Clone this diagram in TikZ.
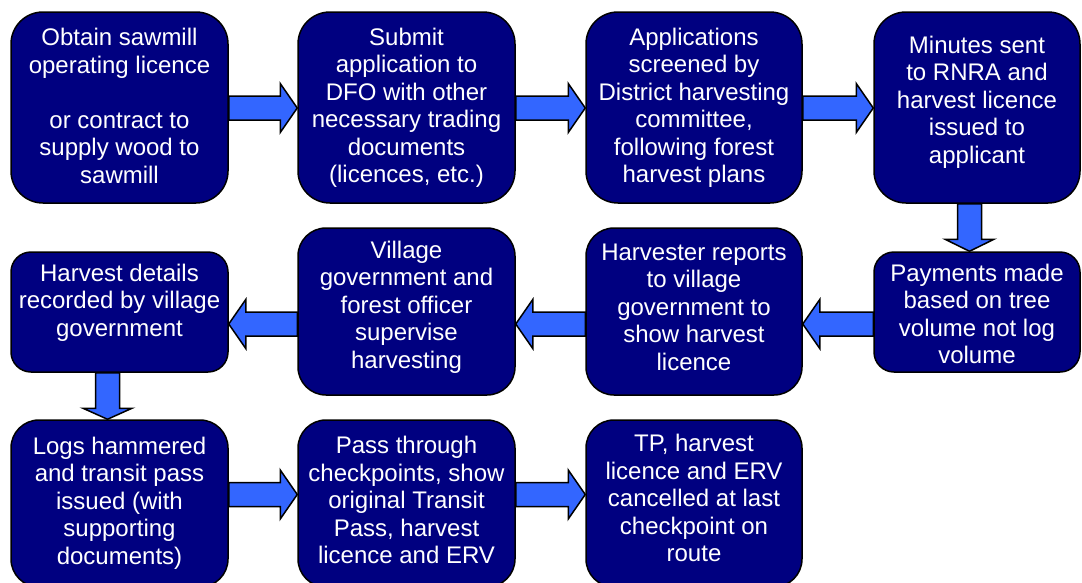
\documentclass[tikz,border=0pt]{standalone}
\usepackage{fontspec}
\setmainfont{Liberation Sans}
\usepackage{xcolor}
\usepackage{tikz}
\usetikzlibrary{calc}

\definecolor{boxnavy}{RGB}{0,0,128}
\definecolor{arrowblue}{RGB}{51,102,255}

% block arrow from #1 (tail) to #2 (tip), head length #3
\newcommand{\blockarrow}[3]{%
  \filldraw[flow] ($(#1)!12pt!90:(#2)$) -- ($(#2)!#3!(#1)!12pt!90:(#2)$)
    -- ($(#2)!#3!(#1)!24.5pt!90:(#2)$) -- (#2)
    -- ($(#2)!#3!(#1)!24.5pt!-90:(#2)$) -- ($(#2)!#3!(#1)!12pt!-90:(#2)$)
    -- ($(#1)!12pt!-90:(#2)$) -- cycle;}

\begin{document}
\begin{tikzpicture}[
    x=1pt, y=1pt,
    card/.style={rectangle, draw=black, fill=boxnavy, line width=1.5pt, inner sep=0pt},
    txt/.style={text=white, align=center, inner sep=0pt, font=\fontsize{24}{27.5}\selectfont},
    flow/.style={draw=black, fill=arrowblue, line width=1.5pt, line join=miter}
]
\useasboundingbox (0,0) rectangle (1082,-582);

% Row 1
\node (obtain) [card, minimum width=217pt, minimum height=191pt, rounded corners=32pt] at (119.5,-107.5) {};
\node (obtaintx) [txt] at ([yshift=1.5pt]obtain.center) {Obtain sawmill\\operating licence\\~\\or contract to\\supply wood to\\sawmill};
\node (submit) [card, minimum width=217pt, minimum height=191pt, rounded corners=32pt] at (406.5,-107.5) {};
\node (submittx) [txt] at ([yshift=-0.5pt]submit.center) {Submit\\application to\\DFO with other\\necessary trading\\documents\\(licences, etc.)};
\node (screen) [card, minimum width=216pt, minimum height=191pt, rounded corners=32pt] at (694,-107.5) {};
\node (screentx) [txt] at ([yshift=-0.5pt]screen.center) {Applications\\screened by\\District harvesting\\committee,\\following forest\\harvest plans};
\node (minutes) [card, minimum width=206pt, minimum height=191pt, rounded corners=32pt] at (977,-107.5) {};
\node (minutestx) [txt] at ([yshift=5.5pt]minutes.center) {Minutes sent\\to RNRA and\\harvest licence\\issued to\\applicant};

% Row 2
\node (pay) [card, minimum width=206pt, minimum height=120pt, rounded corners=20pt] at (977,-312) {};
\node (paytx) [txt] at ([yshift=-2pt]pay.center) {Payments made\\based on tree\\volume not log\\volume};
\node (report) [card, minimum width=216pt, minimum height=167pt, rounded corners=28pt] at (694,-311.5) {};
\node (reporttx) [txt] at ([yshift=4.5pt]report.center) {Harvester reports\\to village\\government to\\show harvest\\licence};
\node (supervise) [card, minimum width=217pt, minimum height=167pt, rounded corners=28pt] at (406.5,-311.5) {};
\node (supervisetx) [txt] at ([yshift=4.5pt]supervise.center) {Village\\government and\\forest officer\\supervise\\harvesting};
\node (record) [card, minimum width=217pt, minimum height=120pt, rounded corners=20pt] at (119.5,-312) {};
\node (recordtx) [txt] at ([yshift=9.5pt]record.center) {Harvest details\\recorded by village\\government};

% Row 3
\node (hammer) [card, minimum width=217pt, minimum height=167pt, rounded corners=28pt] at (119.5,-503.5) {};
\node (hammertx) [txt] at ([yshift=0.5pt]hammer.center) {Logs hammered\\and transit pass\\issued (with\\supporting\\documents)};
\node (pass) [card, minimum width=217pt, minimum height=167pt, rounded corners=28pt] at (406.5,-503.5) {};
\node (passtx) [txt] at ([yshift=3.5pt]pass.center) {Pass through\\checkpoints, show\\original Transit\\Pass, harvest\\licence and ERV};
\node (cancel) [card, minimum width=216pt, minimum height=167pt, rounded corners=28pt] at (694,-503.5) {};
\node (canceltx) [txt] at ([yshift=5.5pt]cancel.center) {TP, harvest\\licence and ERV\\cancelled at last\\checkpoint on\\route};

% Arrow lanes
\coordinate (r1) at (0,-108);
\coordinate (r2) at (0,-324);
\coordinate (r3) at (0,-494.5);
\coordinate (c1) at (969.5,0);
\coordinate (c2) at (107.5,0);

% Connections
\blockarrow{obtain.east |- r1}{submit.west |- r1}{17pt}
\blockarrow{submit.east |- r1}{screen.west |- r1}{17pt}
\blockarrow{screen.east |- r1}{minutes.west |- r1}{17pt}
\blockarrow{minutes.south -| c1}{pay.north -| c1}{12pt}
\blockarrow{pay.west |- r2}{report.east |- r2}{17pt}
\blockarrow{report.west |- r2}{supervise.east |- r2}{17pt}
\blockarrow{supervise.west |- r2}{record.east |- r2}{17pt}
\blockarrow{record.south -| c2}{hammer.north -| c2}{11pt}
\blockarrow{hammer.east |- r3}{pass.west |- r3}{17pt}
\blockarrow{pass.east |- r3}{cancel.west |- r3}{17pt}

\end{tikzpicture}
\end{document}
